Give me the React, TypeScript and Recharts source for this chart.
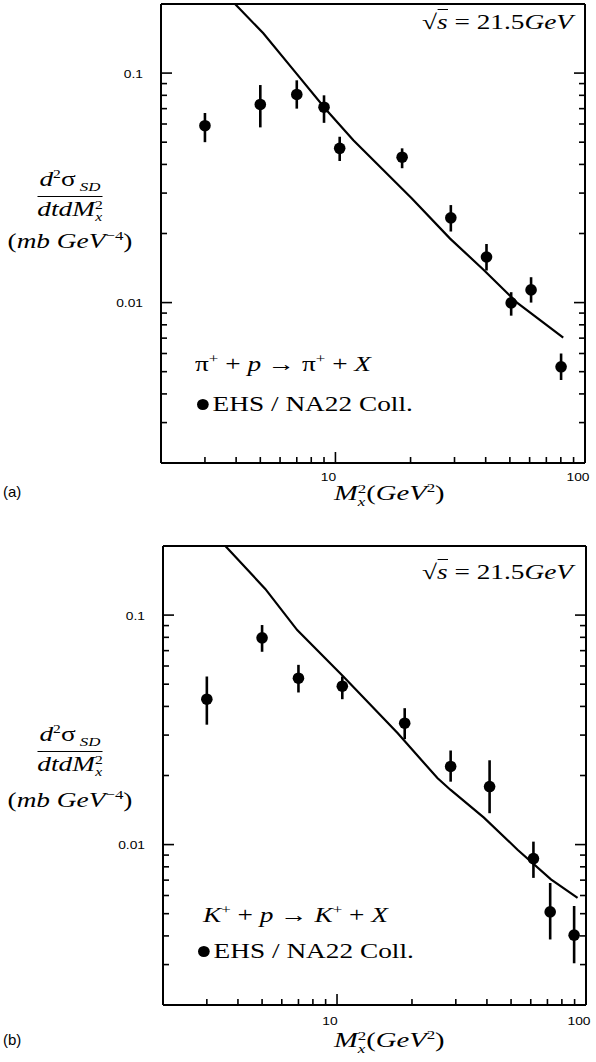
import { ComposedChart, ErrorBar, Line, Scatter, XAxis, YAxis } from "recharts";

// axis ticks (log-log frame, ticks on all four sides)
const X_TICKS = [2, 3, 4, 5, 6, 7, 8, 9, 10, 20, 30, 40, 50, 60, 70, 80, 90, 100];
const X_LABELS = [10, 100];
const Y_TICKS = [
  0.002, 0.003, 0.004, 0.005, 0.006, 0.007, 0.008, 0.009,
  0.01, 0.02, 0.03, 0.04, 0.05, 0.06, 0.07, 0.08, 0.09, 0.1, 0.2,
];
const Y_LABELS = [0.01, 0.1];

// (a) pi+ p -> pi+ X, EHS/NA22 points
const PI_M2 = [3, 5, 7, 9, 10.4, 18.5, 29, 40.3, 50.6, 60.8, 80.2];
const PI_VAL = [0.059, 0.073, 0.0807, 0.071, 0.047, 0.043, 0.0234, 0.0158, 0.00997, 0.01136, 0.00525];
const PI_LO = [0.05, 0.058, 0.07, 0.0607, 0.0414, 0.0385, 0.0204, 0.0138, 0.00877, 0.01, 0.0046];
const PI_HI = [0.067, 0.0887, 0.093, 0.08, 0.0528, 0.047, 0.0266, 0.018, 0.0111, 0.0129, 0.006];
// (a) model curve
const PI_CURVE_M2 = [3.96, 5.14, 6.8, 9.2, 11.8, 20.2, 28.8, 39.2, 53.4, 81.8];
const PI_CURVE = [0.2, 0.149, 0.103, 0.069, 0.051, 0.0285, 0.019, 0.0139, 0.01, 0.00703];

// (b) K+ p -> K+ X, EHS/NA22 points
const K_M2 = [3, 5, 7, 10.5, 18.7, 28.6, 41, 61.5, 71.8, 89.6];
const K_VAL = [0.043, 0.0796, 0.0531, 0.049, 0.0338, 0.0219, 0.0179, 0.00869, 0.00509, 0.00403];
const K_LO = [0.0333, 0.0692, 0.046, 0.043, 0.0288, 0.0188, 0.0137, 0.00716, 0.00386, 0.00304];
const K_HI = [0.054, 0.0905, 0.0607, 0.054, 0.0393, 0.0257, 0.0233, 0.0103, 0.0068, 0.0054];
// (b) model curve
const K_CURVE_M2 = [3.56, 5.15, 6.92, 10.6, 17.5, 25.3, 28.6, 38.9, 53.1, 72.3, 92.5];
const K_CURVE = [0.2, 0.13, 0.086, 0.054, 0.0306, 0.0195, 0.0173, 0.0131, 0.0095, 0.00705, 0.00586];

const SERIF = "'Liberation Serif', 'Times New Roman', serif";
const SANS = "'Liberation Sans', Arial, sans-serif";
const FRAME = 2;
const STRETCH = 1.3; // the scanned lettering is wider than plain Times

const isLabel = (list: number[], v: number) => list.some((l) => Math.abs(l - v) < 1e-9);

function makePoints(xs: number[], ys: number[], lo: number[], hi: number[]) {
  return xs.map((x, i) => ({ x, y: ys[i], err: [ys[i] - lo[i], hi[i] - ys[i]] }));
}

function makeCurve(xs: number[], ys: number[]) {
  return xs.map((x, i) => ({ x, y: ys[i] }));
}

const Dot = (props: any) => <circle cx={props.cx} cy={props.cy} r={5.8} fill="#000" />;

function TickText({ x, y, anchor, value }: { x: number; y: number; anchor: "middle" | "end"; value: number }) {
  return (
    <text
      transform={`translate(${x},${y}) scale(1.2,1)`}
      textAnchor={anchor}
      dominantBaseline="central"
      fontFamily={SANS}
      fontSize={11.5}
      fill="#000"
    >
      {value}
    </text>
  );
}

function bottomTick(labelDy: number) {
  return (props: any) => {
    const { x, y, payload } = props;
    const major = isLabel(X_LABELS, payload.value);
    return (
      <g>
        <line x1={x} x2={x} y1={y} y2={y - (major ? 11 : 6)} stroke="#000" strokeWidth={1.6} />
        {major && <TickText x={x - 7} y={y + labelDy} anchor="middle" value={payload.value} />}
      </g>
    );
  };
}

const topTick = (props: any) => {
  const { x, y, payload } = props;
  const major = isLabel(X_LABELS, payload.value);
  return <line x1={x} x2={x} y1={y} y2={y + (major ? 11 : 6)} stroke="#000" strokeWidth={1.6} />;
};

const leftTick = (props: any) => {
  const { x, y, payload } = props;
  const major = isLabel(Y_LABELS, payload.value);
  return (
    <g>
      <line x1={x} x2={x + (major ? 11 : 6)} y1={y} y2={y} stroke="#000" strokeWidth={1.6} />
      {major && <TickText x={x - 18} y={y + 1} anchor="end" value={payload.value} />}
    </g>
  );
};

const rightTick = (props: any) => {
  const { x, y, payload } = props;
  const major = isLabel(Y_LABELS, payload.value);
  return <line x1={x} x2={x - (major ? 11 : 6)} y1={y} y2={y} stroke="#000" strokeWidth={1.6} />;
};

type PanelProps = {
  top: number;
  height: number;
  margin: { top: number; left: number; right: number; bottom: number };
  points: { x: number; y: number; err: number[] }[];
  curve: { x: number; y: number }[];
  labelDy: number;
};

function Panel({ top, height, margin, points, curve, labelDy }: PanelProps) {
  const axisLine = { stroke: "#000", strokeWidth: FRAME };
  return (
    <div style={{ position: "absolute", left: 0, top, width: 596, height }}>
      <ComposedChart width={596} height={height} margin={margin}>
        <XAxis
          xAxisId="b"
          dataKey="x"
          type="number"
          scale="log"
          domain={[2, 100]}
          allowDataOverflow
          ticks={X_TICKS}
          interval={0}
          height={1}
          tickSize={0}
          tickMargin={0}
          tickLine={false}
          axisLine={axisLine}
          tick={bottomTick(labelDy)}
        />
        <XAxis
          xAxisId="t"
          orientation="top"
          type="number"
          scale="log"
          domain={[2, 100]}
          allowDataOverflow
          ticks={X_TICKS}
          interval={0}
          height={1}
          tickSize={0}
          tickMargin={0}
          tickLine={false}
          axisLine={axisLine}
          tick={topTick}
        />
        <YAxis
          yAxisId="l"
          dataKey="y"
          type="number"
          scale="log"
          domain={[0.002, 0.2]}
          allowDataOverflow
          ticks={Y_TICKS}
          interval={0}
          width={1}
          tickSize={0}
          tickMargin={0}
          tickLine={false}
          axisLine={axisLine}
          tick={leftTick}
        />
        <YAxis
          yAxisId="r"
          orientation="right"
          type="number"
          scale="log"
          domain={[0.002, 0.2]}
          allowDataOverflow
          ticks={Y_TICKS}
          interval={0}
          width={1}
          tickSize={0}
          tickMargin={0}
          tickLine={false}
          axisLine={axisLine}
          tick={rightTick}
        />
        <Line
          data={curve}
          dataKey="y"
          xAxisId="b"
          yAxisId="l"
          type="linear"
          stroke="#000"
          strokeWidth={2.2}
          dot={false}
          isAnimationActive={false}
        />
        <Scatter data={points} dataKey="y" xAxisId="b" yAxisId="l" shape={Dot} isAnimationActive={false}>
          <ErrorBar dataKey="err" direction="y" width={0} stroke="#000" strokeWidth={2.6} isAnimationActive={false} />
        </Scatter>
      </ComposedChart>
    </div>
  );
}

const abs = (left: number, top: number, extra: React.CSSProperties = {}): React.CSSProperties => ({
  position: "absolute",
  left,
  top,
  whiteSpace: "nowrap",
  fontFamily: SERIF,
  lineHeight: 1,
  transform: `scaleX(${STRETCH})`,
  transformOrigin: "left center",
  ...extra,
});

function YTitle({ top }: { top: number }) {
  return (
    <div style={abs(0, top, { width: 140, textAlign: "center", fontSize: 21, transformOrigin: "center center" })}>
      <div style={{ display: "inline-block", textAlign: "center" }}>
        <div style={{ borderBottom: "1.3px solid #000", padding: "0 2px 3px" }}>
          <i>d</i>
          <sup style={{ fontSize: 12 }}>2</sup>σ<sub style={{ fontSize: 13 }}>
            {" "}
            <i>SD</i>
          </sub>
        </div>
        <div style={{ paddingTop: 2 }}>
          <i>dtdM</i>
          <span style={{ display: "inline-flex", flexDirection: "column", fontSize: 12, verticalAlign: "middle", lineHeight: 1 }}>
            <span>2</span>
            <i>x</i>
          </span>
        </div>
      </div>
    </div>
  );
}

function Units({ top }: { top: number }) {
  return (
    <div style={abs(0, top, { width: 140, textAlign: "center", fontSize: 21, transformOrigin: "center center" })}>
      (<i>mb</i> <i>GeV</i>
      <sup style={{ fontSize: 13 }}>−4</sup>)
    </div>
  );
}

function XTitle({ top }: { top: number }) {
  return (
    <div style={abs(334, top, { fontSize: 22 })}>
      <i>M</i>
      <span style={{ display: "inline-flex", flexDirection: "column", fontSize: 13, verticalAlign: "middle", lineHeight: 1 }}>
        <span>2</span>
        <i>x</i>
      </span>
      (<i>GeV</i>
      <sup style={{ fontSize: 13 }}>2</sup>)
    </div>
  );
}

function Energy({ top }: { top: number }) {
  return (
    <div style={abs(422, top, { fontSize: 21 })}>
      √<i style={{ borderTop: "1.3px solid #000" }}>s</i> = 21.5<i>GeV</i>
    </div>
  );
}

function LegendRow({ top, left }: { top: number; left: number }) {
  return (
    <div style={abs(left, top, { fontSize: 21, display: "flex", alignItems: "center" })}>
      <span style={{ display: "inline-block", width: 9, height: 11, borderRadius: "50%", background: "#000", marginRight: 3 }} />
      EHS / NA22 Coll.
    </div>
  );
}

export default function App() {
  const piPoints = makePoints(PI_M2, PI_VAL, PI_LO, PI_HI);
  const piCurve = makeCurve(PI_CURVE_M2, PI_CURVE);
  const kPoints = makePoints(K_M2, K_VAL, K_LO, K_HI);
  const kCurve = makeCurve(K_CURVE_M2, K_CURVE);

  return (
    <div style={{ position: "absolute", left: 0, top: 0, width: 596, height: 1062, background: "#fff", color: "#000" }}>
      <Panel
        top={0}
        height={520}
        margin={{ top: 3, left: 160, right: 10, bottom: 56 }}
        points={piPoints}
        curve={piCurve}
        labelDy={14}
      />
      <Panel
        top={530}
        height={532}
        margin={{ top: 15, left: 162, right: 9, bottom: 56 }}
        points={kPoints}
        curve={kCurve}
        labelDy={16}
      />

      {/* panel (a) annotations */}
      <Energy top={12} />
      <YTitle top={168} />
      <Units top={229} />
      <div style={abs(195, 352, { fontSize: 21 })}>
        π<sup style={{ fontSize: 13 }}>+</sup> + <i>p</i> → π<sup style={{ fontSize: 13 }}>+</sup> + <i>X</i>
      </div>
      <LegendRow top={394} left={197} />
      <XTitle top={481} />
      <div style={abs(3, 484, { fontFamily: SANS, fontSize: 15, transform: "none" })}>(a)</div>

      {/* panel (b) annotations */}
      <Energy top={562} />
      <YTitle top={723} />
      <Units top={788} />
      <div style={abs(203, 903, { fontSize: 21 })}>
        <i>K</i>
        <sup style={{ fontSize: 13 }}>+</sup> + <i>p</i> → <i>K</i>
        <sup style={{ fontSize: 13 }}>+</sup> + <i>X</i>
      </div>
      <LegendRow top={941} left={198} />
      <XTitle top={1028} />
      <div style={abs(3, 1032, { fontFamily: SANS, fontSize: 15, transform: "none" })}>(b)</div>
    </div>
  );
}
